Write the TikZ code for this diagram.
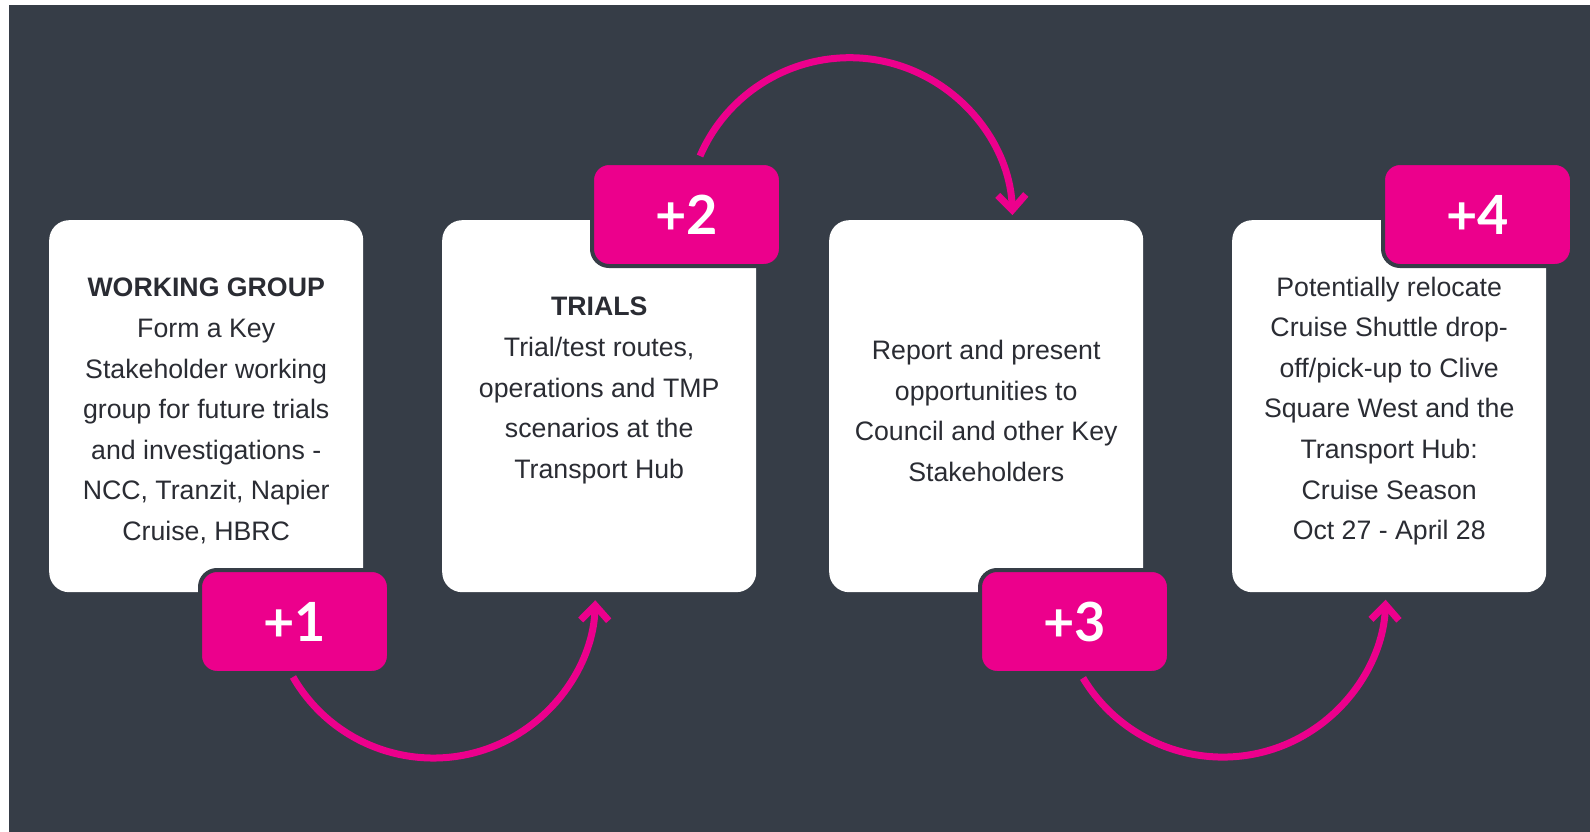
\documentclass[tikz,border=0pt]{standalone}
\usepackage{fontspec}
\setmainfont{Liberation Sans}
\newfontfamily\tabfont{Lato}
\usetikzlibrary{arrows.meta}
\definecolor{bgcol}{HTML}{363D47}
\definecolor{magcol}{HTML}{EC008C}
\definecolor{txtcol}{HTML}{2A2C33}
\begin{document}
\begin{tikzpicture}[x=1pt,y=-1pt,
  card/.style={fill=white, rounded corners=20pt, minimum width=314pt, minimum height=372pt, inner sep=0pt, anchor=north west},
  tabbox/.style={fill=magcol, draw=bgcol, line width=4pt, rounded corners=17pt, minimum width=189pt, minimum height=103pt, inner sep=0pt, text=white, font=\tabfont\bfseries\fontsize{54}{60}\selectfont},
  body/.style={text=txtcol, align=center, font=\fontsize{26.7}{40.6}\selectfont, inner sep=0pt},
  conn/.style={draw=magcol, line width=7pt, -{Straight Barb[length=15pt,width=28pt,line cap=butt,line join=miter]}}
]
\useasboundingbox (0,0) rectangle (1590,832);
\fill[white] (0,0) rectangle (1590,832);
\fill[bgcol] (9,5) rectangle (1590,832);

% cards
\node[card] (c1) at (49,220) {};
\node[card] (c2) at (442,220) {};
\node[card] (c3) at (829,220) {};
\node[card] (c4) at (1232,220) {};

% texts
\node[body] (x1) at (c1.center |- 0,411) {\textbf{WORKING GROUP}\\Form a Key\\Stakeholder working\\group for future trials\\and investigations -\\NCC, Tranzit, Napier\\Cruise, HBRC};
\node[body] (x2) at (c2.center |- 0,390.5) {\textbf{TRIALS}\\Trial/test routes,\\operations and TMP\\scenarios at the\\Transport Hub};
\node[body] (x3) at (c3.center |- 0,411) {Report and present\\opportunities to\\Council and other Key\\Stakeholders};
\node[body] (x4) at (c4.center |- 0,411) {Potentially relocate\\Cruise Shuttle drop-\\off/pick-up to Clive\\Square West and the\\Transport Hub:\\Cruise Season\\Oct 27 - April 28};

% tabs
\node[tabbox] (t1) at (294.5,621.5) {+1};
\node[tabbox] (t2) at (686.5,214.5) {+2};
\node[tabbox] (t3) at (1074.5,621.5) {+3};
\node[tabbox] (t4) at (1477.5,214.5) {+4};

% connectors
\draw[conn] ([shift={(-1.5,2)}]t1.south) arc[start angle=210, end angle=358.5, radius=162pt];
\draw[conn] ([shift={(13.5,-5)}]t2.north) arc[start angle=156.6, end angle=2, radius=163pt];
\draw[conn] ([shift={(8.5,3)}]t3.south) arc[start angle=211, end angle=358, radius=163pt];
\end{tikzpicture}
\end{document}
